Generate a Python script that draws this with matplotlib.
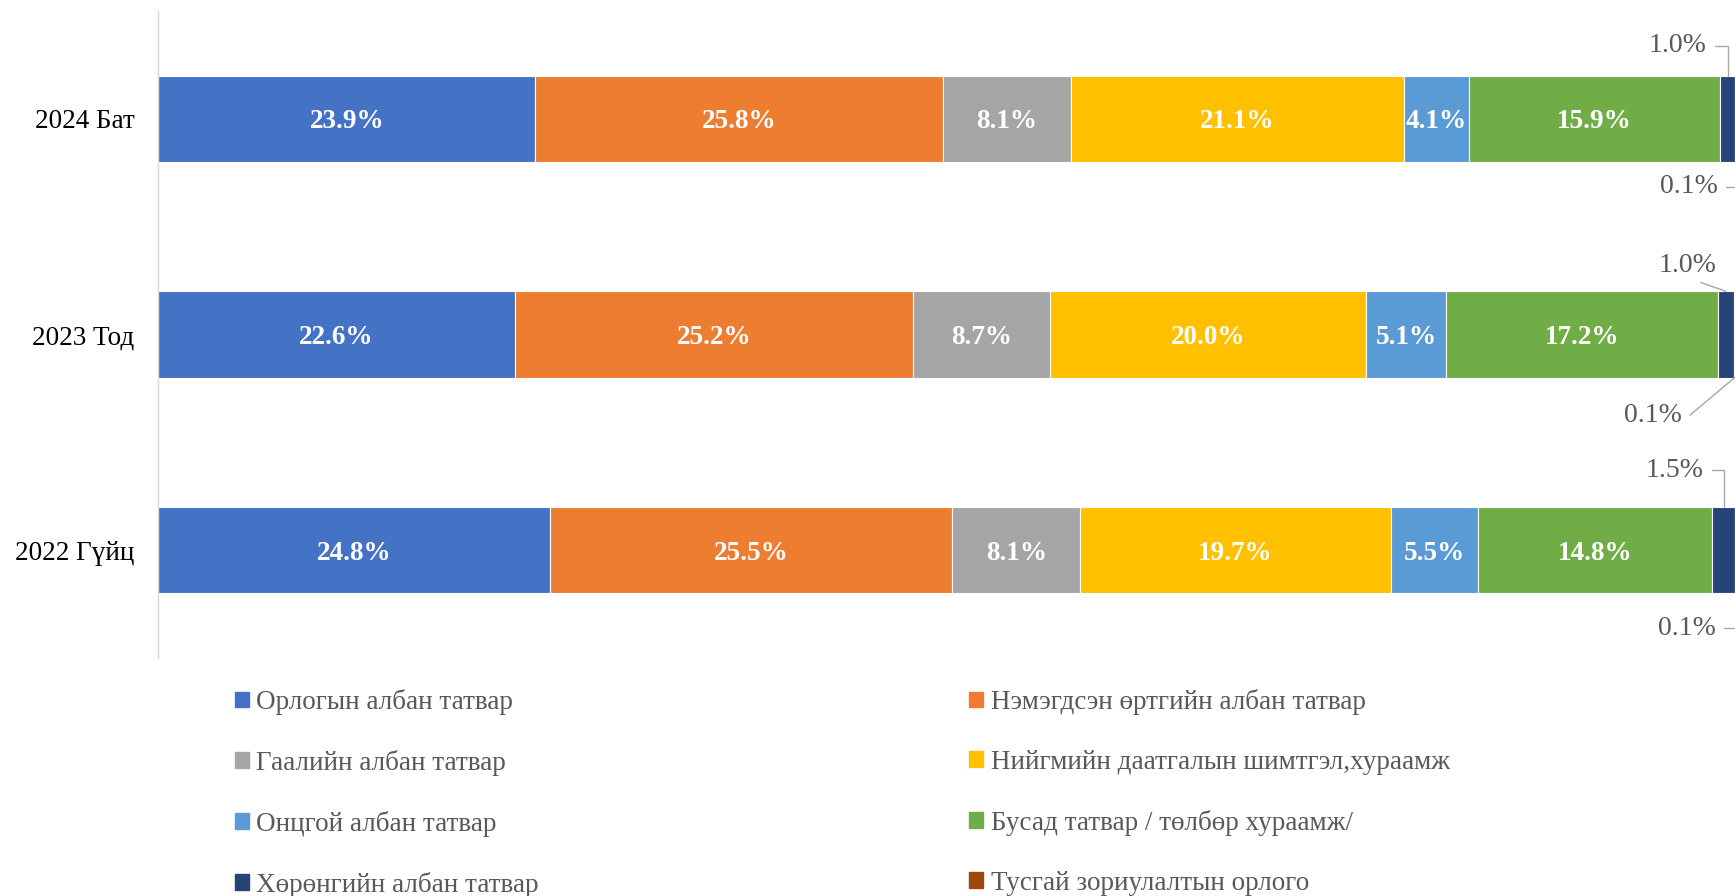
import numpy as np
import matplotlib
matplotlib.use('Agg')
import matplotlib.pyplot as plt
from matplotlib.patches import Patch

plt.rcParams['font.family'] = ['Liberation Serif', 'DejaVu Serif']

# categories, top to bottom
categories = ['2024 Бат', '2023 Тод', '2022 Гүйц']

# series names (legend order)
series_names = ['Орлогын албан татвар',
                'Нэмэгдсэн өртгийн албан татвар',
                'Гаалийн албан татвар',
                'Нийгмийн даатгалын шимтгэл,хураамж',
                'Онцгой албан татвар',
                'Бусад татвар / төлбөр хураамж/',
                'Хөрөнгийн албан татвар',
                'Тусгай зориулалтын орлого']

# shares in %, one list per series (2024, 2023, 2022)
orlogo = [23.9, 22.6, 24.8]
nuat = [25.8, 25.2, 25.5]
gaali = [8.1, 8.7, 8.1]
niigmiin = [21.1, 20.0, 19.7]
ontsgoi = [4.1, 5.1, 5.5]
busad = [15.9, 17.2, 14.8]
khurungiin = [1.0, 1.0, 1.5]
tusgai = [0.1, 0.1, 0.1]

series_values = [orlogo, nuat, gaali, niigmiin, ontsgoi, busad, khurungiin, tusgai]
colors = ['#4472C4', '#ED7D31', '#A5A5A5', '#FFC000',
          '#5B9BD5', '#70AD47', '#264478', '#9E480E']

# labels of the small segments: (row, series, dx px, dy px, connection, side, relpos)
small_labels = [
    (0, 6, -50, 33, 'angle,angleA=0,angleB=90,rad=0', 'top', (1, 0.5)),
    (0, 7, -47, -22, 'angle,angleA=0,angleB=90,rad=0', 'bottom', (1, 0.5)),
    (1, 6, -38, 29, 'arc3', 'top', (0.5, 0)),
    (1, 7, -82, -35, 'angle,angleA=0,angleB=40,rad=0', 'bottom', (1, 0.5)),
    (2, 6, -49, 40, 'angle,angleA=0,angleB=90,rad=0', 'top', (1, 0.5)),
    (2, 7, -49, -32, 'angle,angleA=0,angleB=90,rad=0', 'bottom', (1, 0.5)),
]

W, H = 1735, 896
fig = plt.figure(figsize=(W / 100, H / 100), dpi=100)
ax = fig.add_axes([158 / W, 1 - 658 / H, (1737 - 158) / W, (658 - 11) / H])

y = np.arange(len(categories))
bar_h = 0.4
left = np.zeros(len(categories))
starts = []
for name, vals, col in zip(series_names, series_values, colors):
    vals = np.array(vals)
    ax.barh(y, vals, left=left, height=bar_h, color=col,
            edgecolor='white', linewidth=0.8, label=name)
    starts.append(left.copy())
    for i, v in enumerate(vals):
        if v >= 3:
            ax.text(left[i] + v / 2, y[i], f'{v:.1f}%', ha='center', va='center_baseline',
                    color='white', fontsize=19.5, fontweight='bold')
    left = left + vals

# small segments labelled outside with leader lines
for row, s, dx, dy, conn, side, rp in small_labels:
    v = series_values[s][row]
    xc = starts[s][row] + v / 2
    yb = y[row] - bar_h / 2 if side == 'top' else y[row] + bar_h / 2
    ax.annotate(f'{v:.1f}%', xy=(xc, yb), xytext=(dx, dy), textcoords='offset pixels',
                ha='center', va='center_baseline', fontsize=20, color='#595959',
                annotation_clip=False,
                arrowprops=dict(arrowstyle='-', color='#A6A6A6', lw=1,
                                connectionstyle=conn, relpos=rp,
                                shrinkA=4, shrinkB=0))

ax.set_xlim(0, 100)
ax.set_ylim(len(categories) - 0.5, -0.5)
ax.set_yticks(y)
ax.set_yticklabels(categories, fontsize=19.5, color='black')
ax.tick_params(axis='y', length=0, pad=17)
ax.set_xticks([])
for sp in ['top', 'right', 'bottom']:
    ax.spines[sp].set_visible(False)
ax.spines['left'].set_color('#D9D9D9')
ax.spines['left'].set_linewidth(1)

# legend: two columns, filled row by row
handles = [Patch(color=c) for c in colors]
for idx, x0 in [([0, 2, 4, 6], 234.7), ([1, 3, 5, 7], 969.4)]:
    leg = fig.legend([handles[i] for i in idx], [series_names[i] for i in idx],
                     loc='upper left', bbox_to_anchor=(x0 / W, 1 - 689 / H),
                     frameon=False, fontsize=19.5, handlelength=0.52, handleheight=0.52,
                     handletextpad=0.26, labelspacing=1.29, borderpad=0, borderaxespad=0)
    for t in leg.get_texts():
        t.set_color('#595959')

fig.savefig('out.png', dpi=100)
